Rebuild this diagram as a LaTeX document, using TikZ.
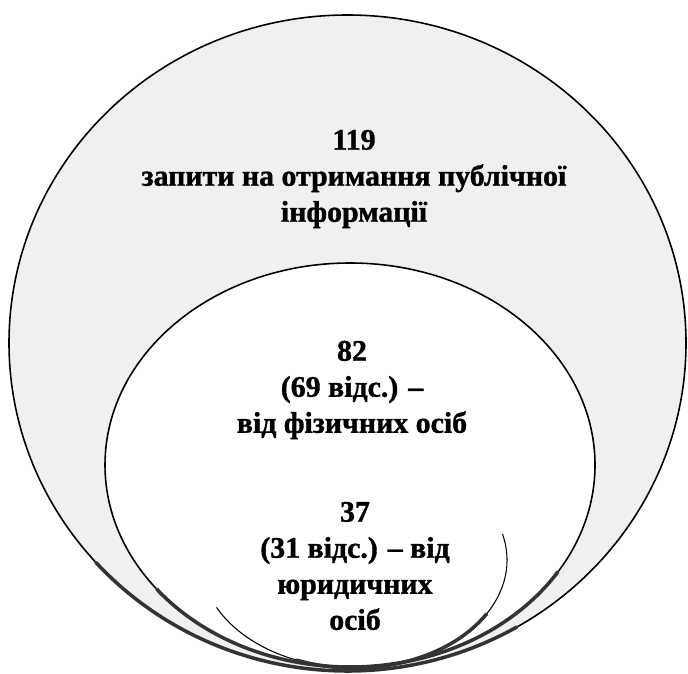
\documentclass[tikz,border=0pt]{standalone}
\usepackage{fontspec}
\setmainfont{Liberation Serif}[BoldFont={Liberation Serif Bold}, BoldFeatures={FakeBold=1.2}]
\usepackage{tikz}
\usetikzlibrary{positioning}

\begin{document}
\begin{tikzpicture}[
        x=0.02cm, y=0.02cm,
        countText/.style={
          align=center,
          font=\bfseries\fontsize{17}{20.5}\selectfont,
          inner sep=0pt
        },
        rim/.style={draw, line width=0.9pt},
        shadowRim/.style={draw=black!80, line width=2pt, line cap=round}
    ]

    \useasboundingbox (0,0) rectangle (688,673);

    % Define the circles
    \draw[rim, fill=black!6] (347.5,330) ellipse [x radius=338.5, y radius=328];
    \draw[rim, fill=white] (350,208) ellipse [x radius=245, y radius=202];
    \draw[rim, line width=0.6pt] (354,113) ++(14:153 and 108)
        arc[start angle=14, end angle=-154, x radius=153, y radius=108];

    % Shadowed lower edges
    \draw[shadowRim] (347.5,330) ++(222:338.5 and 328)
        arc[start angle=222, end angle=300, x radius=338.5, y radius=328];
    \draw[shadowRim] (350,208) ++(218:245 and 202)
        arc[start angle=218, end angle=328, x radius=245, y radius=202];
    \draw[shadowRim] (354,113) ++(248:153 and 108)
        arc[start angle=248, end angle=330, x radius=153, y radius=108];

    % Define the texts
    \node[countText] (total) at (354,494) {119\\запити на отримання публічної\\інформації};
    \node[countText] (physical) at (352,283) {82\\(69 відс.) –\\від фізичних осіб};
    \node[countText] (legal) at (355,107) {37\\(31 відс.) – від\\юридичних\\осіб};

\end{tikzpicture}
\end{document}
